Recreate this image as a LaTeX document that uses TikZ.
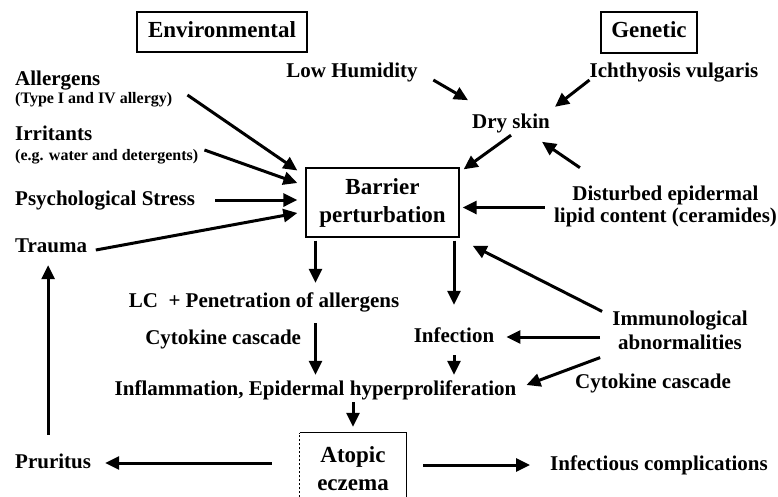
\documentclass[tikz,border=0pt]{standalone}
\usepackage{fontspec}
\setmainfont{Liberation Serif}
\usetikzlibrary{arrows.meta}
\usetikzlibrary{positioning}

\begin{document}
\begin{tikzpicture}[%
  >={Triangle[length=14pt,width=13pt]},
  x=1pt, y=-1pt,
  every node/.style={font=\bfseries\fontsize{21}{24}\selectfont, inner sep=3pt},
  txt/.style={text height=14pt, text depth=4pt},
  box/.style={draw, line width=1.8pt, font=\bfseries\fontsize{23}{28}\selectfont},
  small/.style={font=\bfseries\fontsize{16}{18}\selectfont},
  arr/.style={->, line width=3pt},
]

  \useasboundingbox (0,0) rectangle (778,496);
  \fill[white] (0,0) rectangle (778,496);
  \clip (0,0) rectangle (778,496);

  % headings
  \node[box, txt, minimum width=170pt, minimum height=40pt] (env) at (222,32) {Environmental};
  \node[box, txt, minimum width=96pt, minimum height=41pt] (gen) at (649,32.5) {Genetic};

  % left column
  \node[txt, anchor=west] (allerg) at (12,80) {Allergens};
  \node[small, anchor=west] (allergy) at (12,100) {(Type I and IV allergy)};
  \node[txt, anchor=west] (irrit) at (12,135) {Irritants};
  \node[small, anchor=west] (water) at (12,157) {(e.g. water and detergents)};
  \node[txt, anchor=west] (stress) at (12,200) {Psychological Stress};
  \node[txt, anchor=west] (trauma) at (12,247) {Trauma};

  % top right
  \node[txt] (humid) at (352,72) {Low Humidity};
  \node[txt] (ichth) at (674,72) {Ichthyosis vulgaris};
  \node[txt] (dry) at (511,123) {Dry skin};
  \node[align=center, font=\bfseries\fontsize{21}{22}\selectfont] (lipid) at (665.5,206)
    {Disturbed epidermal\\lipid content (ceramides)};

  % centre
  \node[box, line width=1.3pt, minimum width=153pt, minimum height=69pt, align=center] (barrier)
    at (382.5,202.5) {Barrier\\perturbation};
  \node[txt] (lc) at (264,302) {LC~ + Penetration of allergens};
  \node[txt] (infect) at (454,337) {Infection};
  \node[align=center] (immuno) at (680,330) {Immunological\\abnormalities};
  \node[txt] (inflam) at (315.5,390) {Inflammation, Epidermal hyperproliferation};
  \node[txt] (cyto2) at (653,383) {Cytokine cascade};

  % bottom
  \node[minimum width=106pt, minimum height=72pt, align=center,
    font=\bfseries\fontsize{23}{28}\selectfont] (atopic) at (353,469) {Atopic\\eczema};
  \draw[line width=0.8pt, dash pattern=on 2pt off 2pt] (atopic.south west) -- (atopic.north west);
  \draw[line width=1.2pt] (atopic.north west) -- (atopic.north east) -- (atopic.south east);
  \node[txt, anchor=west] (prur) at (12,463) {Pruritus};
  \node[txt, anchor=west] (infcomp) at (547,465) {Infectious complications};

  % into the barrier
  \draw[arr] ([xshift=12pt,yshift=5pt]allergy.east) -- ([xshift=-8pt,yshift=32pt]barrier.west);
  \draw[arr] ([xshift=3pt,yshift=7pt]water.east) -- ([xshift=-8pt,yshift=19.5pt]barrier.west);
  \draw[arr] ([xshift=17pt]stress.east) -- ([xshift=-8pt,yshift=2.5pt]barrier.west);
  \draw[arr] ([xshift=5.5pt,yshift=-3pt]trauma.east) -- ([xshift=-8pt,yshift=-10.5pt]barrier.west);

  \draw[arr] ([xshift=12.5pt,yshift=-8pt]humid.east) -- ([xshift=-1pt,yshift=10.6pt]dry.north west);
  \draw[arr] ([xshift=3pt,yshift=-8pt]ichth.west) -- ([xshift=2pt,yshift=4pt]dry.north east);
  \draw[arr] (dry.south) -- ([xshift=4pt,yshift=-2pt]barrier.north east);
  \draw[arr] ([xshift=29pt,yshift=14.6pt]lipid.north west) -- ([xshift=-11pt,yshift=-6.6pt]dry.south east);
  \draw[arr] ([xshift=-6pt,yshift=-1.5pt]lipid.west) -- ([xshift=3pt,yshift=-5pt]barrier.east);

  % down the middle
  \draw[arr, shorten <=3pt, shorten >=7pt] (barrier.south -| inflam) -- (lc.north -| inflam);
  \draw[arr, shorten <=9pt, shorten >=3pt] (lc.south -| inflam) -- (inflam.north)
    node[txt, pos=0.4, left=10pt] (cyto1) {Cytokine cascade};
  \draw[arr, shorten <=3pt, shorten >=20pt] (barrier.south -| infect) -- (infect.north);
  \draw[arr, shorten <=6pt, shorten >=3pt] (infect.south) -- (inflam.north -| infect);
  \draw[arr, shorten >=6pt] (inflam.south -| atopic) -- (atopic.north);

  % immunological
  \draw[arr] ([xshift=-7pt,yshift=-4pt]immuno.north west) -- ([xshift=13pt,yshift=-8pt]barrier.south east);
  \draw[arr, shorten <=9pt, shorten >=9pt] (immuno.west |- infect.east) -- (infect.east);
  \draw[arr] ([xshift=-9pt,yshift=-5pt]immuno.south west) -- ([xshift=7pt,yshift=5pt]inflam.east);

  % out of the eczema
  \draw[arr, shorten <=28pt, shorten >=11pt] (atopic.west |- prur.east) -- (prur.east);
  \draw[arr, shorten <=17pt, shorten >=17pt] (atopic.east |- infcomp.west) -- (infcomp.west);
  \draw[arr, shorten <=16pt, shorten >=6pt] ([xshift=-5pt]prur.north) -- ([xshift=-5pt]prur.north |- trauma.south);

\end{tikzpicture}
\end{document}
